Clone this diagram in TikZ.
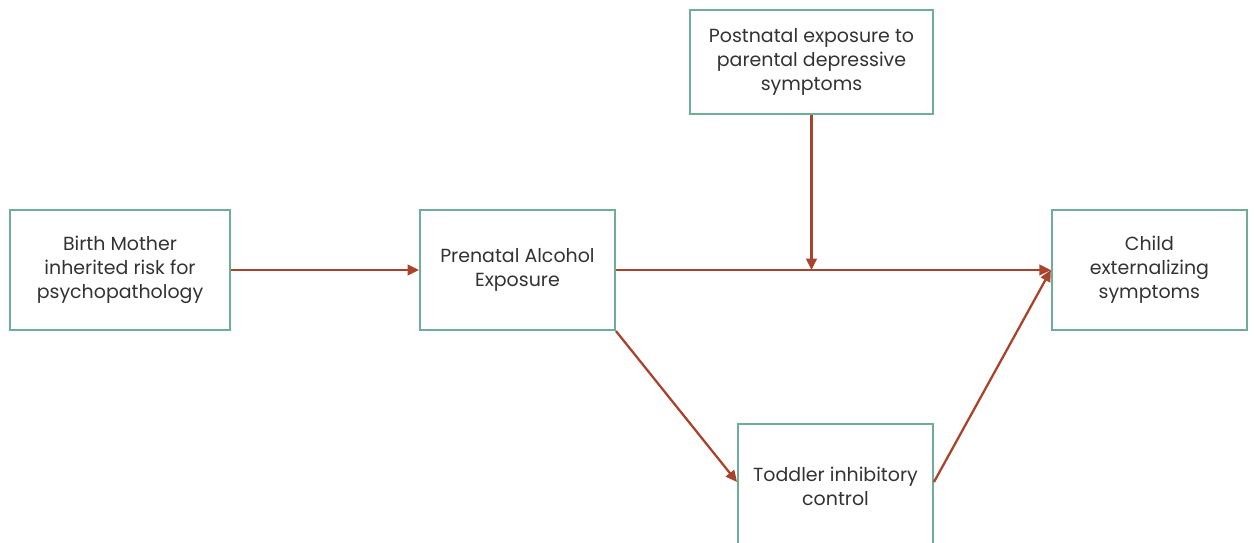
\documentclass[tikz,border=0pt]{standalone}
\usepackage{fontspec}
\setmainfont{Poppins}
\usetikzlibrary{arrows.meta, positioning}
\definecolor{boxline}{HTML}{6FAE96}
\definecolor{arrowred}{HTML}{A8432C}
\definecolor{textgray}{HTML}{333333}

\begin{document}
\begin{tikzpicture}[>={Triangle[length=6.5pt,width=6pt]}, node distance=2cm,
  box/.style={draw=boxline, line width=1.1pt, fill=white, align=center, text=textgray,
    font=\fontsize{10.8}{13.6}\selectfont, minimum height=2.4cm, inner sep=2pt},
  link/.style={->, draw=arrowred, line width=1.3pt}]
\clip (0,0) rectangle (25.08,-10.84);
\useasboundingbox (0,0) rectangle (25.08,-10.84);
\node[box, minimum width=4.4cm] (B1) at (2.4,-5.4) {Birth Mother\\inherited risk for\\psychopathology};
\node[box, minimum width=3.9cm, right=3.76cm of B1] (PAE) {Prenatal Alcohol\\Exposure};
\node[box, minimum width=3.9cm, right=8.7cm of PAE] (CES) {Child\\externalizing\\symptoms};
\node[box, minimum width=4.86cm, minimum height=2.08cm] (PDS) at (16.23,-1.24) {Postnatal exposure to\\parental depressive\\symptoms};
\node[box, minimum width=3.9cm, minimum height=2.48cm] (TIC) at (16.71,-9.72) {Toddler inhibitory\\control};
\coordinate (M) at (PDS.south |- PAE.east);
\draw[link] (B1) -- (PAE);
\draw[link] (PAE) -- (CES);
\draw[link] (PDS.south) -- (M);
\draw[link] (PAE.south east) -- (TIC.west |- 0,-9.64);
\draw[link] (TIC.east |- 0,-9.64) -- (CES.west);

\end{tikzpicture}
\end{document}
